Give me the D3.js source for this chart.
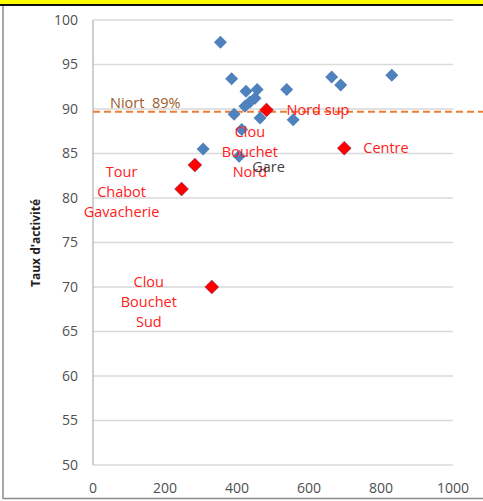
<!DOCTYPE html>
<html>
<head>
<meta charset="utf-8">
<script src="https://cdn.jsdelivr.net/npm/d3@7"></script>
<style>
	body { margin: 0; background: #fff; }
	text { font-family: "Open Sans", "Liberation Sans", sans-serif; }
</style>
</head>
<body>
<div id="chart-content"></div>
<script>
const dest		= '#chart-content';

// quartiers (bleu)
const blueX		= [354, 385, 425, 456, 436, 422, 450, 538, 392, 464, 556, 413, 306, 406, 663, 688, 830];
const blueY		= [97.5, 93.4, 92.0, 92.2, 90.8, 90.3, 91.2, 92.2, 89.4, 89.0, 88.8, 87.7, 85.5, 84.7, 93.6, 92.7, 93.8];

// quartiers prioritaires (rouge)
const redNames	= ['Nord sup', 'Centre', 'Clou Bouchet Nord', 'Tour Chabot Gavacherie', 'Clou Bouchet Sud'];
const redX		= [482, 698, 283, 246, 330];
const redY		= [89.9, 85.6, 83.7, 81.0, 70.0];

const niortRate	= 89.7;
const niortText	= 'Niort\u00a0\u00a089%';
const xTicks	= [0, 200, 400, 600, 800, 1000];
const yTicks	= [50, 55, 60, 65, 70, 75, 80, 85, 90, 95, 100];
const yTitle	= "Taux d'activité";

// label placement (pixels from the point)
const labelPos	= {
	'Nord sup':					{ dx: 20, dy: 0, anchor: 'start', lines: ['Nord sup'] },
	'Centre':					{ dx: 19, dy: 0, anchor: 'start', lines: ['Centre'] },
	'Clou Bouchet Nord':		{ dx: 55, dy: -33, anchor: 'middle', lines: ['Clou', 'Bouchet', 'Nord'] },
	'Tour Chabot Gavacherie':	{ dx: -60, dy: -17, anchor: 'middle', lines: ['Tour', 'Chabot', 'Gavacherie'] },
	'Clou Bouchet Sud':			{ dx: -63, dy: -5, anchor: 'middle', lines: ['Clou', 'Bouchet', 'Sud'] }
};

function createChart() {
	let width		= 483;
	let height		= 501;

	let x			= d3.scaleLinear().domain([0, 1000]).range([93, 453]);
	let y			= d3.scaleLinear().domain([50, 100]).range([465, 20]);

	let svg = d3.select(dest).append('svg')
		.attr('width', width)
		.attr('height', height);

	// frame
	svg.append('rect').attr('x', 0).attr('y', 0).attr('width', width).attr('height', 4).attr('fill', '#ffff00');
	svg.append('rect').attr('x', 0).attr('y', 4).attr('width', width).attr('height', 2).attr('fill', '#111');
	svg.append('line').attr('x1', 3).attr('x2', 3).attr('y1', 6).attr('y2', 499).attr('stroke', '#8c8c8c').attr('stroke-width', 1.5);
	svg.append('line').attr('x1', 3).attr('x2', width).attr('y1', 498.5).attr('y2', 498.5).attr('stroke', '#8c8c8c').attr('stroke-width', 1.5);

	// grid
	svg.append('g')
		.selectAll('line')
		.data(yTicks)
			.enter().append('line')
			.attr('x1', x(0))
			.attr('x2', x(1000))
			.attr('y1', (o) => (y(o)))
			.attr('y2', (o) => (y(o)))
			.attr('stroke', '#d9d9d9')
			.attr('stroke-width', 1.5);

	svg.append('line')
		.attr('x1', x(0)).attr('x2', x(0))
		.attr('y1', y(100)).attr('y2', y(50))
		.attr('stroke', '#bfbfbf')
		.attr('stroke-width', 1.5);

	// tick labels
	svg.append('g')
		.selectAll('text')
		.data(yTicks)
			.enter().append('text')
			.attr('x', 78)
			.attr('y', (o) => (y(o)))
			.attr('dy', '0.35em')
			.attr('text-anchor', 'end')
			.attr('font-size', 14)
			.attr('fill', '#505050')
			.text((o) => (o));

	svg.append('g')
		.selectAll('text')
		.data(xTicks)
			.enter().append('text')
			.attr('x', (o) => (x(o)))
			.attr('y', 488)
			.attr('dy', '0.35em')
			.attr('text-anchor', 'middle')
			.attr('font-size', 14)
			.attr('fill', '#505050')
			.text((o) => (o));

	svg.append('text')
		.attr('transform', 'translate(36,243) rotate(-90)')
		.attr('text-anchor', 'middle')
		.attr('dy', '0.35em')
		.attr('font-size', 12)
		.attr('font-weight', 'bold')
		.attr('fill', '#222')
		.text(yTitle);

	// Niort reference
	svg.append('line')
		.attr('x1', x(0)).attr('x2', width)
		.attr('y1', y(niortRate)).attr('y2', y(niortRate))
		.attr('stroke', '#ed7d31')
		.attr('stroke-width', 2)
		.attr('stroke-dasharray', '7,4');

	svg.append('text')
		.attr('x', x(0) + 17)
		.attr('y', y(niortRate) - 9)
		.attr('dy', '0.35em')
		.attr('font-size', 14.5)
		.attr('fill', '#9c5b2a')
		.text(niortText);

	let diamond = (s) => ('M0,' + (-s) + 'L' + s + ',0L0,' + s + 'L' + (-s) + ',0Z');

	svg.append('g')
		.selectAll('path')
		.data(_zip(blueX, blueY))
			.enter().append('path')
			.attr('d', diamond(6.5))
			.attr('transform', (o) => ('translate(' + x(o[0]) + ',' + y(o[1]) + ')'))
			.attr('fill', '#4f81bd');

	svg.append('g')
		.selectAll('path')
		.data(_zip(redX, redY))
			.enter().append('path')
			.attr('d', diamond(7))
			.attr('transform', (o) => ('translate(' + x(o[0]) + ',' + y(o[1]) + ')'))
			.attr('fill', '#ff0000')
			.attr('stroke', '#3a4a8a')
			.attr('stroke-width', 0.4);

	// labels
	redNames.forEach((name, i) => {
		let pos		= labelPos[name];
		let label	= svg.append('text')
			.attr('text-anchor', pos.anchor)
			.attr('font-size', 14.5)
			.attr('fill', '#ff2020');
		pos.lines.forEach((line, j) => {
			label.append('tspan')
				.attr('x', x(redX[i]) + pos.dx)
				.attr('y', y(redY[i]) + pos.dy + j * 20)
				.attr('dy', '0.35em')
				.text(line);
		});
	});

	// Gare (blue point)
	let gare = blueX.indexOf(406);
	svg.append('text')
		.attr('x', x(blueX[gare]) + 13)
		.attr('y', y(blueY[gare]) + 11)
		.attr('dy', '0.35em')
		.attr('font-size', 14.5)
		.attr('fill', '#404040')
		.text('Gare');
}

function _zip(a, b) { return a.map((o, i) => ([o, b[i]])); }

createChart();
</script>
</body>
</html>
